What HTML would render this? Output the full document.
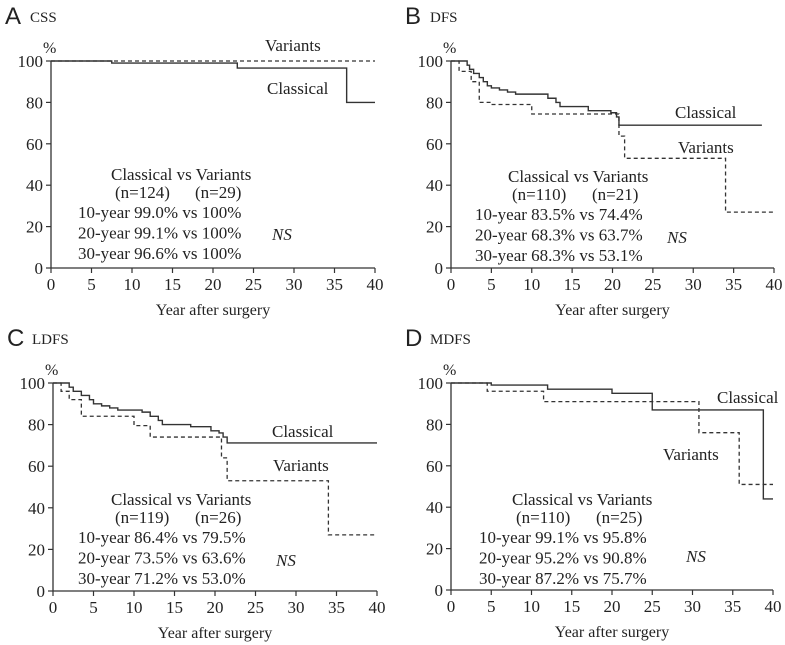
<!DOCTYPE html>
<html><head><meta charset="utf-8"><style>
body{margin:0;background:#fff;}
svg{display:block;font-family:"Liberation Serif",serif;}
</style></head><body>
<svg id="chart" width="785" height="645" viewBox="0 0 785 645"></svg>
<script>
const xTicks=[0,5,10,15,20,25,30,35,40];
const yTicks=[0,20,40,60,80,100];
// panel A CSS
const aClassX=[0,7.5,23,36.5,40];
const aClassY=[100,99,96.6,80,80];
const aVarX=[0,40];
const aVarY=[100,100];
// panel B DFS
const bClassX=[0,2,2.3,2.8,3.5,4,4.5,5,6,7,8,11,12,13,13.5,17,19.8,20.5,20.8,38.5];
const bClassY=[100,98,96,94,92,90,88,87,86,85,84,84,82,80,78,76,75,73,69,69];
const bVarX=[0,1,2.5,3.5,5,10,20.8,21.5,34,40];
const bVarY=[100,95,90,80,79,74.4,63.7,53,27,27];
// panel C LDFS
const cClassX=[0,2,2.5,3.5,4.5,5,6,7,8,11,12,13,13.5,17,19.5,20.5,21,21.5,40];
const cClassY=[100,98,96,94,92,90,89,88,87,86,84,82,80,79,77,76,74,71.2,71.2];
const cVarX=[0,1,2,3.5,10,12,20.8,21.5,34,40];
const cVarY=[100,96,92,84,79.5,74,64,53,27,27];
// panel D MDFS
const dClassX=[0,5,12,20,25,38.8,40];
const dClassY=[100,99,97,95,87,44,44];
const dVarX=[0,4.5,11.5,30.8,35.8,40];
const dVarY=[100,96,91,76,51,51];

const svg=document.getElementById('chart');
const NS='http://www.w3.org/2000/svg';
function el(tag,attrs,parent){const e=document.createElementNS(NS,tag);for(const k in attrs)e.setAttribute(k,attrs[k]);(parent||svg).appendChild(e);return e;}
function txt(s,x,y,size,parent,extra){const t=el('text',Object.assign({x:x,y:y,'font-size':size,fill:'#222'},extra||{}),parent);t.textContent=s;return t;}

const panels=[
 {id:'a',letter:'A',title:'CSS',x0:51,x1:375,y100:61,y0:268,cx:aClassX,cy:aClassY,vx:aVarX,vy:aVarY,
  clab:[267,94],vlab:[265,51],blockX:78,blockY:180,n:['(n=124)','(n=29)'],
  rows:['10-year 99.0% vs 100%','20-year 99.1% vs 100%','30-year 96.6% vs 100%'],ns:[272,240]},
 {id:'b',letter:'B',title:'DFS',x0:451,x1:774,y100:61,y0:268,cx:bClassX,cy:bClassY,vx:bVarX,vy:bVarY,
  clab:[675,118],vlab:[678,153],blockX:475,blockY:182,n:['(n=110)','(n=21)'],
  rows:['10-year 83.5% vs 74.4%','20-year 68.3% vs 63.7%','30-year 68.3% vs 53.1%'],ns:[667,243]},
 {id:'c',letter:'C',title:'LDFS',x0:53,x1:377,y100:383,y0:591,cx:cClassX,cy:cClassY,vx:cVarX,vy:cVarY,
  clab:[272,437],vlab:[273,471],blockX:78,blockY:505,n:['(n=119)','(n=26)'],
  rows:['10-year 86.4% vs 79.5%','20-year 73.5% vs 63.6%','30-year 71.2% vs 53.0%'],ns:[276,566]},
 {id:'d',letter:'D',title:'MDFS',x0:451,x1:773,y100:383,y0:590,cx:dClassX,cy:dClassY,vx:dVarX,vy:dVarY,
  clab:[717,403],vlab:[663,460],blockX:479,blockY:505,n:['(n=110)','(n=25)'],
  rows:['10-year 99.1% vs 95.8%','20-year 95.2% vs 90.8%','30-year 87.2% vs 75.7%'],ns:[686,562]}
];

panels.forEach(p=>{
 const g=el('g',{});
 
 
 const X=v=>p.x0+(p.x1-p.x0)*v/40;
 const Y=v=>p.y0-(p.y0-p.y100)*v/100;
 const L=txt(p.letter,p.x0-46,p.y100-37,24,g,{'font-family':'Liberation Sans, sans-serif'});
 
 
 const T=txt(p.title,p.x0-21,p.y100-39,15,g);
 
 
 const pc=txt('%',p.x0-8,p.y100-8,16,g);
 
 
 const ax=el('path',{d:`M${X(0)},${Y(100)}V${Y(0)}H${X(40)}`,stroke:'#333','stroke-width':1.3,fill:'none'},g);
 
 
 yTicks.forEach(v=>{
  el('line',{x1:X(0)-5,x2:X(0),y1:Y(v),y2:Y(v),stroke:'#333','stroke-width':1.2},g);
  const t=txt(String(v),X(0)-8,Y(v)+6,17,g,{'text-anchor':'end'});
  
  
 });
 xTicks.forEach(v=>{
  el('line',{x1:X(v),x2:X(v),y1:Y(0),y2:Y(0)+5,stroke:'#333','stroke-width':1.2},g);
  const t=txt(String(v),X(v),Y(0)+22,17,g,{'text-anchor':'middle'});
  
  
 });
 const xt=txt('Year after surgery',X(20),Y(0)+47,16,g,{'text-anchor':'middle'});
 
 
 function step(xs,ys){let d=`M${X(xs[0])},${Y(ys[0])}`;for(let i=1;i<xs.length;i++){d+=`H${X(xs[i])}V${Y(ys[i])}`;}return d;}
 const cl=el('path',{d:step(p.cx,p.cy),stroke:'#333','stroke-width':1.4,fill:'none'},g);
 
 
 const vl=el('path',{d:step(p.vx,p.vy),stroke:'#333','stroke-width':1.3,fill:'none','stroke-dasharray':'4,3'},g);
 
 
 const c1=txt('Classical',p.clab[0],p.clab[1],17,g);
 
 
 const v1=txt('Variants',p.vlab[0],p.vlab[1],17,g);
 
 
 const h=txt('Classical vs Variants',p.blockX+33,p.blockY,17,g);
 
 
 const n1=txt(p.n[0],p.blockX+37,p.blockY+18,17,g);
 
 
 const n2=txt(p.n[1],p.blockX+117,p.blockY+18,17,g);
 
 
 p.rows.forEach((r,i)=>{
  const t=txt(r,p.blockX,p.blockY+38+i*20.5,17,g);
  
  
 });
 const ns=txt('NS',p.ns[0],p.ns[1],17,g,{'font-style':'italic'});
 
 
});
</script>
</body></html>
